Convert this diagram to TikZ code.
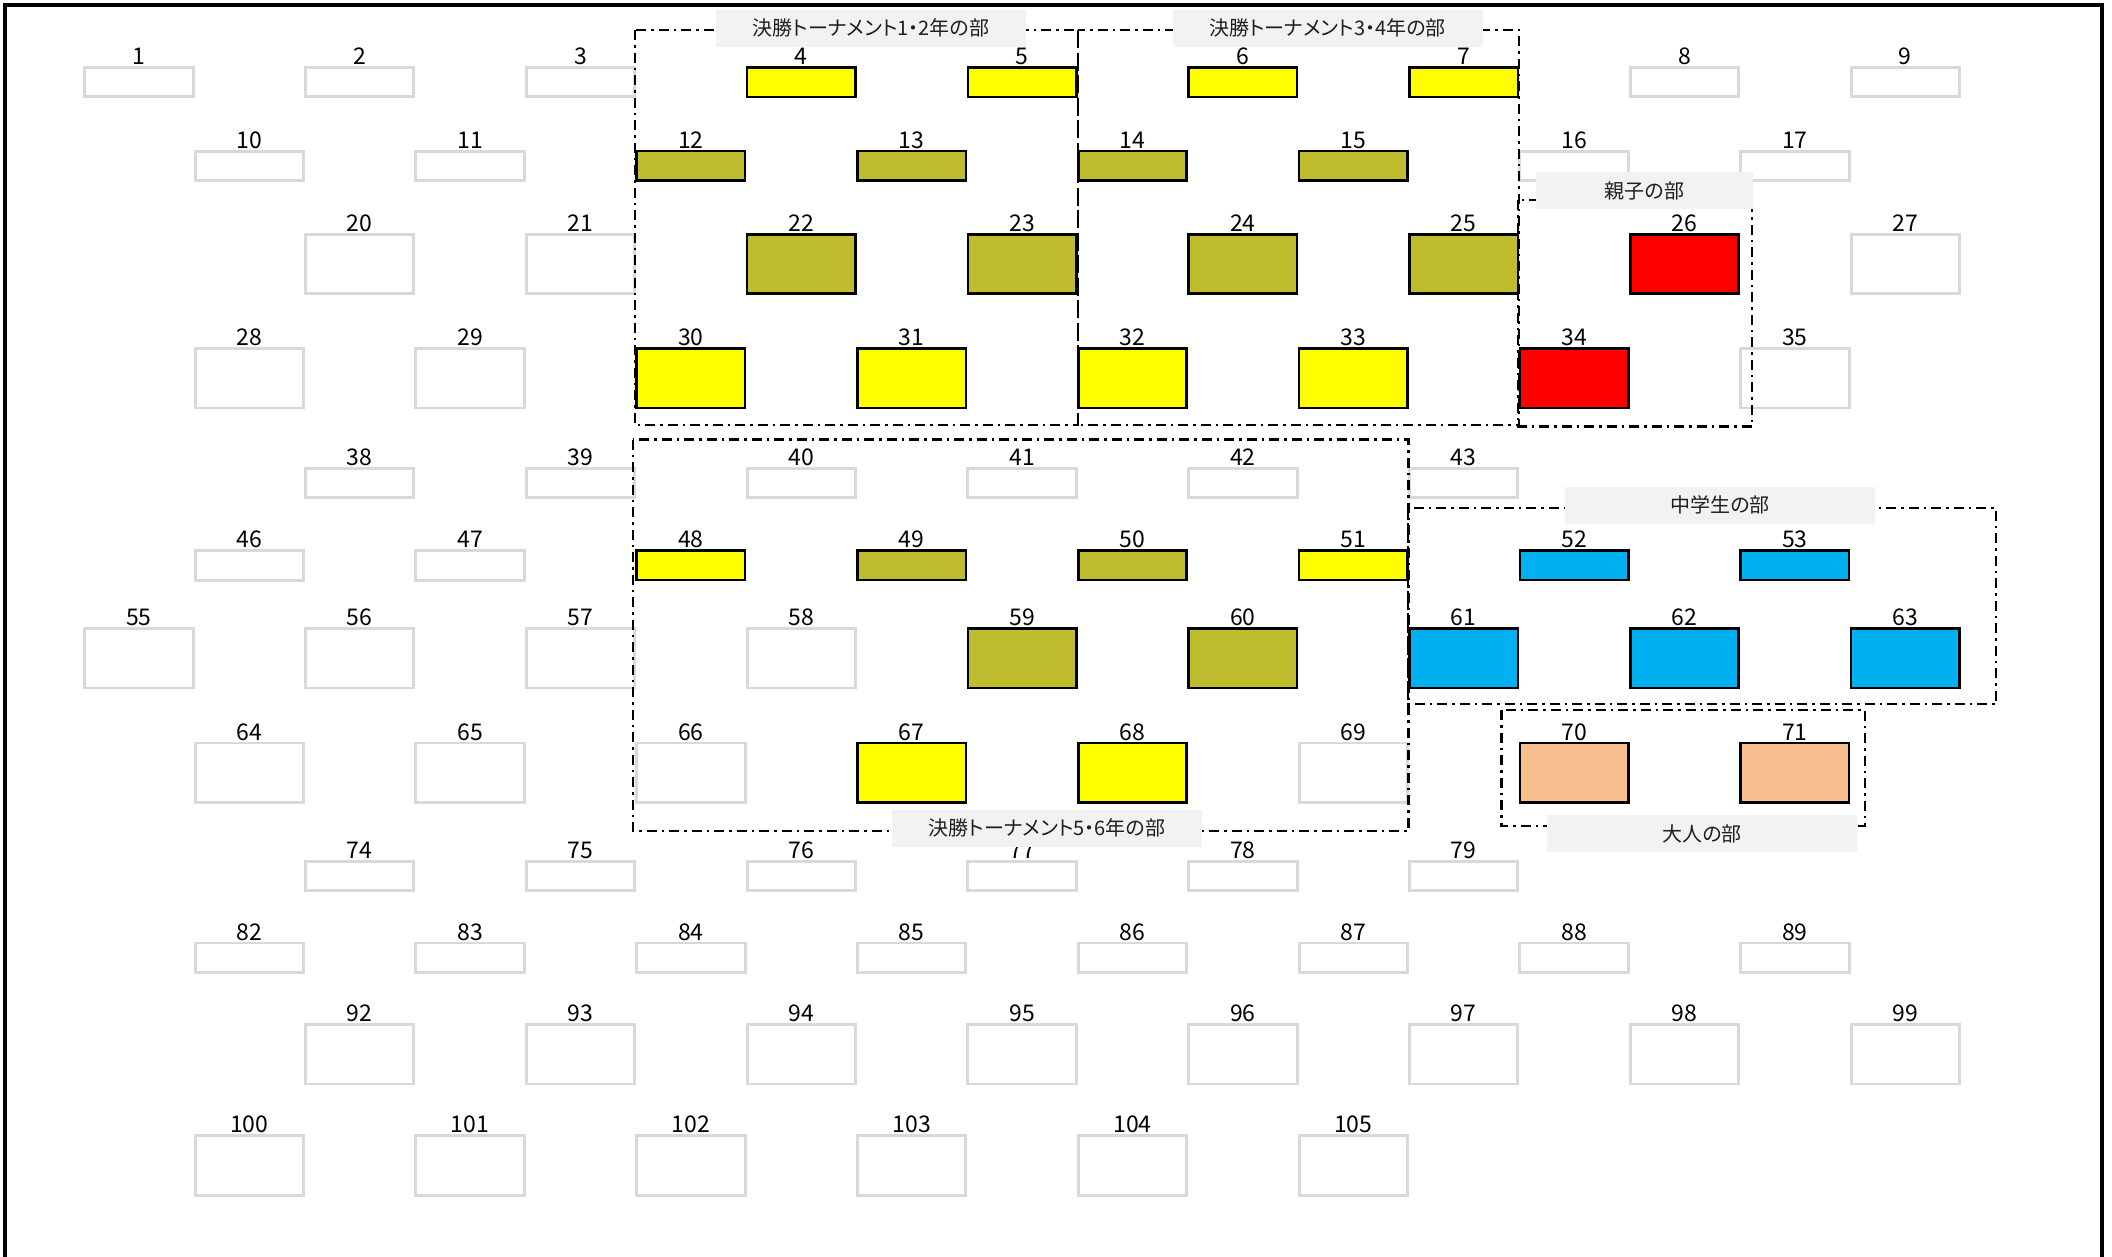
\documentclass[tikz,border=0pt]{standalone}
\usepackage{fontspec}
\newfontfamily\jpfont[RawFeature=+palt]{Noto Sans CJK JP}
\newfontfamily\numfont{Noto Sans CJK JP}

\definecolor{seatgray}{RGB}{217,217,217}
\definecolor{seatyellow}{RGB}{255,255,0}
\definecolor{seatolive}{RGB}{191,189,45}
\definecolor{seatred}{RGB}{255,0,0}
\definecolor{seatblue}{RGB}{0,176,240}
\definecolor{seatpeach}{RGB}{248,192,143}
\definecolor{tagfill}{RGB}{242,242,242}

\tikzset{
  seat/.style={rectangle, inner sep=0pt, outer sep=0pt, minimum width=108.4pt, draw=black, line width=2.6pt},
  freeseat/.style={seat, draw=seatgray, fill=white, line width=2.9pt},
  ylwseat/.style={seat, fill=seatyellow},
  olvseat/.style={seat, fill=seatolive},
  redseat/.style={seat, fill=seatred},
  bluseat/.style={seat, fill=seatblue},
  pchseat/.style={seat, fill=seatpeach},
  seatlow/.style={minimum height=29.4pt},
  seathigh/.style={minimum height=59.4pt},
  seatno/.style={anchor=base, inner sep=0pt, font=\numfont\fontsize{23}{23}\selectfont},
  grp/.style={draw=black, line width=2.6pt, dash pattern=on 10pt off 5pt on 2.5pt off 5pt},
  grptag/.style={fill=tagfill, inner sep=0pt, minimum width=310pt, minimum height=36.7pt,
    text=black!88, font=\jpfont\fontsize{20}{20}\selectfont}
}

\begin{document}
\begin{tikzpicture}[x=1pt, y=-1pt]
    \useasboundingbox (0,0) rectangle (2112,1256);
    \fill[white] (0,0) rectangle (2112,1256);

    % 外枠
    \draw[line width=3.2pt] (4.9,1262) -- (4.9,4.9) -- (2102,4.9) -- (2102,1262);

    % 1列目
    \foreach \n/\s [count=\i from 0] in {1/freeseat,2/freeseat,3/freeseat,4/ylwseat,5/ylwseat,6/ylwseat,7/ylwseat,8/freeseat,9/freeseat}{
        \node[\s,seatlow] (t\n) at ({138.9+220.8*\i},82.1) {};
        \node[seatno] (n\n) at ([yshift=3pt]t\n.north) {\n};
    }
    % 2列目
    \foreach \n/\s [count=\i from 0] in {10/freeseat,11/freeseat,12/olvseat,13/olvseat,14/olvseat,15/olvseat,16/freeseat,17/freeseat}{
        \node[\s,seatlow] (t\n) at ({249.3+220.8*\i},165.8) {};
        \node[seatno] (n\n) at ([yshift=3pt]t\n.north) {\n};
    }
    % 3列目
    \foreach \n/\s [count=\i from 0] in {20/freeseat,21/freeseat,22/olvseat,23/olvseat,24/olvseat,25/olvseat,26/redseat,27/freeseat}{
        \node[\s,seathigh] (t\n) at ({359.7+220.8*\i},264) {};
        \node[seatno] (n\n) at ([yshift=3pt]t\n.north) {\n};
    }
    % 4列目
    \foreach \n/\s [count=\i from 0] in {28/freeseat,29/freeseat,30/ylwseat,31/ylwseat,32/ylwseat,33/ylwseat,34/redseat,35/freeseat}{
        \node[\s,seathigh] (t\n) at ({249.3+220.8*\i},378.3) {};
        \node[seatno] (n\n) at ([yshift=3pt]t\n.north) {\n};
    }
    % 5列目
    \foreach \n [count=\i from 0] in {38,...,43}{
        \node[freeseat,seatlow] (t\n) at ({359.7+220.8*\i},483) {};
        \node[seatno] (n\n) at ([yshift=3pt]t\n.north) {\n};
    }
    % 6列目
    \foreach \n/\s [count=\i from 0] in {46/freeseat,47/freeseat,48/ylwseat,49/olvseat,50/olvseat,51/ylwseat,52/bluseat,53/bluseat}{
        \node[\s,seatlow] (t\n) at ({249.3+220.8*\i},565.4) {};
        \node[seatno] (n\n) at ([yshift=3pt]t\n.north) {\n};
    }
    % 7列目
    \foreach \n/\s [count=\i from 0] in {55/freeseat,56/freeseat,57/freeseat,58/freeseat,59/olvseat,60/olvseat,61/bluseat,62/bluseat,63/bluseat}{
        \node[\s,seathigh] (t\n) at ({138.9+220.8*\i},658.3) {};
        \node[seatno] (n\n) at ([yshift=3pt]t\n.north) {\n};
    }
    % 8列目
    \foreach \n/\s [count=\i from 0] in {64/freeseat,65/freeseat,66/freeseat,67/ylwseat,68/ylwseat,69/freeseat,70/pchseat,71/pchseat}{
        \node[\s,seathigh] (t\n) at ({249.3+220.8*\i},772.7) {};
        \node[seatno] (n\n) at ([yshift=3pt]t\n.north) {\n};
    }
    % 9列目
    \foreach \n [count=\i from 0] in {74,...,79}{
        \node[freeseat,seatlow] (t\n) at ({359.7+220.8*\i},876) {};
        \node[seatno] (n\n) at ([yshift=3pt]t\n.north) {\n};
    }
    % 10列目
    \foreach \n [count=\i from 0] in {82,...,89}{
        \node[freeseat,seatlow] (t\n) at ({249.3+220.8*\i},957.7) {};
        \node[seatno] (n\n) at ([yshift=3pt]t\n.north) {\n};
    }
    % 11列目
    \foreach \n [count=\i from 0] in {92,...,99}{
        \node[freeseat,seathigh] (t\n) at ({359.7+220.8*\i},1054.3) {};
        \node[seatno] (n\n) at ([yshift=3pt]t\n.north) {\n};
    }
    % 12列目
    \foreach \n [count=\i from 0] in {100,...,105}{
        \node[freeseat,seathigh] (t\n) at ({249.3+220.8*\i},1165.4) {};
        \node[seatno] (n\n) at ([yshift=3pt]t\n.north) {\n};
    }

    % 部ごとの枠
    \draw[grp] (635,30) rectangle (1078,425);
    \draw[grp] (1078,30) rectangle (1519,425);
    \draw[grp] (1518,200) rectangle (1752,426.5);
    \draw[grp] (633,439.6) rectangle (1408.5,831);
    \draw[grp] (1408,508) rectangle (1996,704);
    \draw[grp] (1501.5,710) rectangle (1865,826);

    % 部の見出し
    \node[grptag] (tag12) at (871,28.3) {決勝トーナメント1・2年の部};
    \node[grptag] (tag34) at (1327.5,28.3) {決勝トーナメント3・4年の部};
    \node[grptag, minimum width=217pt] (tagoyako) at (1644.5,190.5) {親子の部};
    \node[grptag] (tag56) at (1047,828.3) {決勝トーナメント5・6年の部};
    \node[grptag] (tagchu) at (1720,505.3) {中学生の部};
    \node[grptag] (tagotona) at (1702,833.5) {大人の部};
\end{tikzpicture}
\end{document}
